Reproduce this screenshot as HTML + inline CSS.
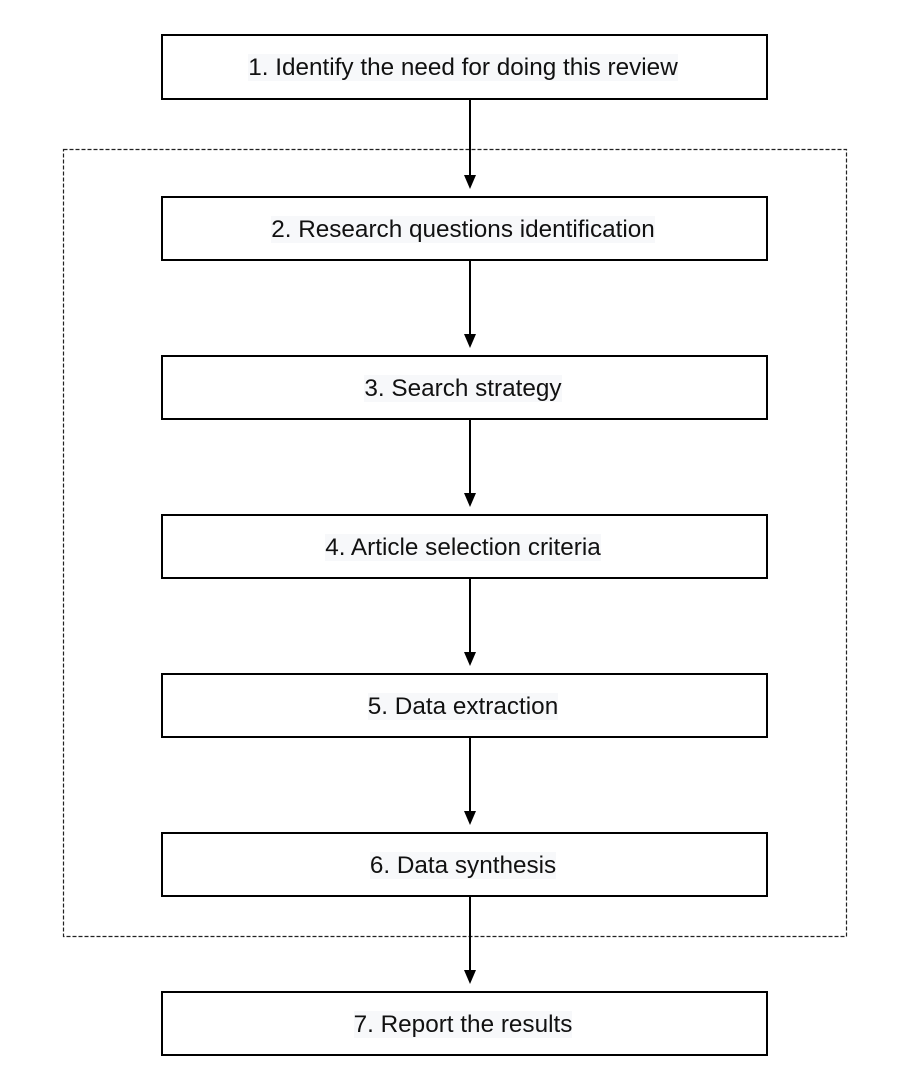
<!DOCTYPE html>
<html><head><meta charset="utf-8"><style>
html,body{margin:0;padding:0;background:#fff;width:916px;height:1084px;overflow:hidden;position:relative}
.l{position:absolute;left:0;width:926px;text-align:center;font-family:"Liberation Sans",Arial,sans-serif;font-size:24.3px;line-height:29px;color:#111}
.l span{background:#f7f8fa}
</style></head><body>
<svg width="916" height="1084" xmlns="http://www.w3.org/2000/svg" style="position:absolute;left:0;top:0">
<rect x="63.5" y="149.5" width="783" height="787" fill="none" stroke="#222" stroke-width="1.2" stroke-dasharray="4,2"/>
<g stroke="#000" stroke-width="2" fill="none">
<rect x="162" y="35" width="605" height="64"/>
<rect x="162" y="197" width="605" height="63"/>
<rect x="162" y="356" width="605" height="63"/>
<rect x="162" y="515" width="605" height="63"/>
<rect x="162" y="674" width="605" height="63"/>
<rect x="162" y="833" width="605" height="63"/>
<rect x="162" y="992" width="605" height="63"/>
</g>
<g stroke="#000" stroke-width="2">
<line x1="470" y1="99" x2="470" y2="180"/>
<line x1="470" y1="260" x2="470" y2="339"/>
<line x1="470" y1="419" x2="470" y2="498"/>
<line x1="470" y1="578" x2="470" y2="657"/>
<line x1="470" y1="737" x2="470" y2="816"/>
<line x1="470" y1="896" x2="470" y2="975"/>
</g>
<g fill="#000">
<polygon points="464,175 476,175 470,189"/>
<polygon points="464,334 476,334 470,348"/>
<polygon points="464,493 476,493 470,507"/>
<polygon points="464,652 476,652 470,666"/>
<polygon points="464,811 476,811 470,825"/>
<polygon points="464,970 476,970 470,984"/>
</g>
</svg>
<div class="l" style="top:53px"><span>1. Identify the need for doing this review</span></div>
<div class="l" style="top:215px"><span>2. Research questions identification</span></div>
<div class="l" style="top:374px"><span>3. Search strategy</span></div>
<div class="l" style="top:533px"><span>4. Article selection criteria</span></div>
<div class="l" style="top:692px"><span>5. Data extraction</span></div>
<div class="l" style="top:851px"><span>6. Data synthesis</span></div>
<div class="l" style="top:1010px"><span>7. Report the results</span></div>
</body></html>
